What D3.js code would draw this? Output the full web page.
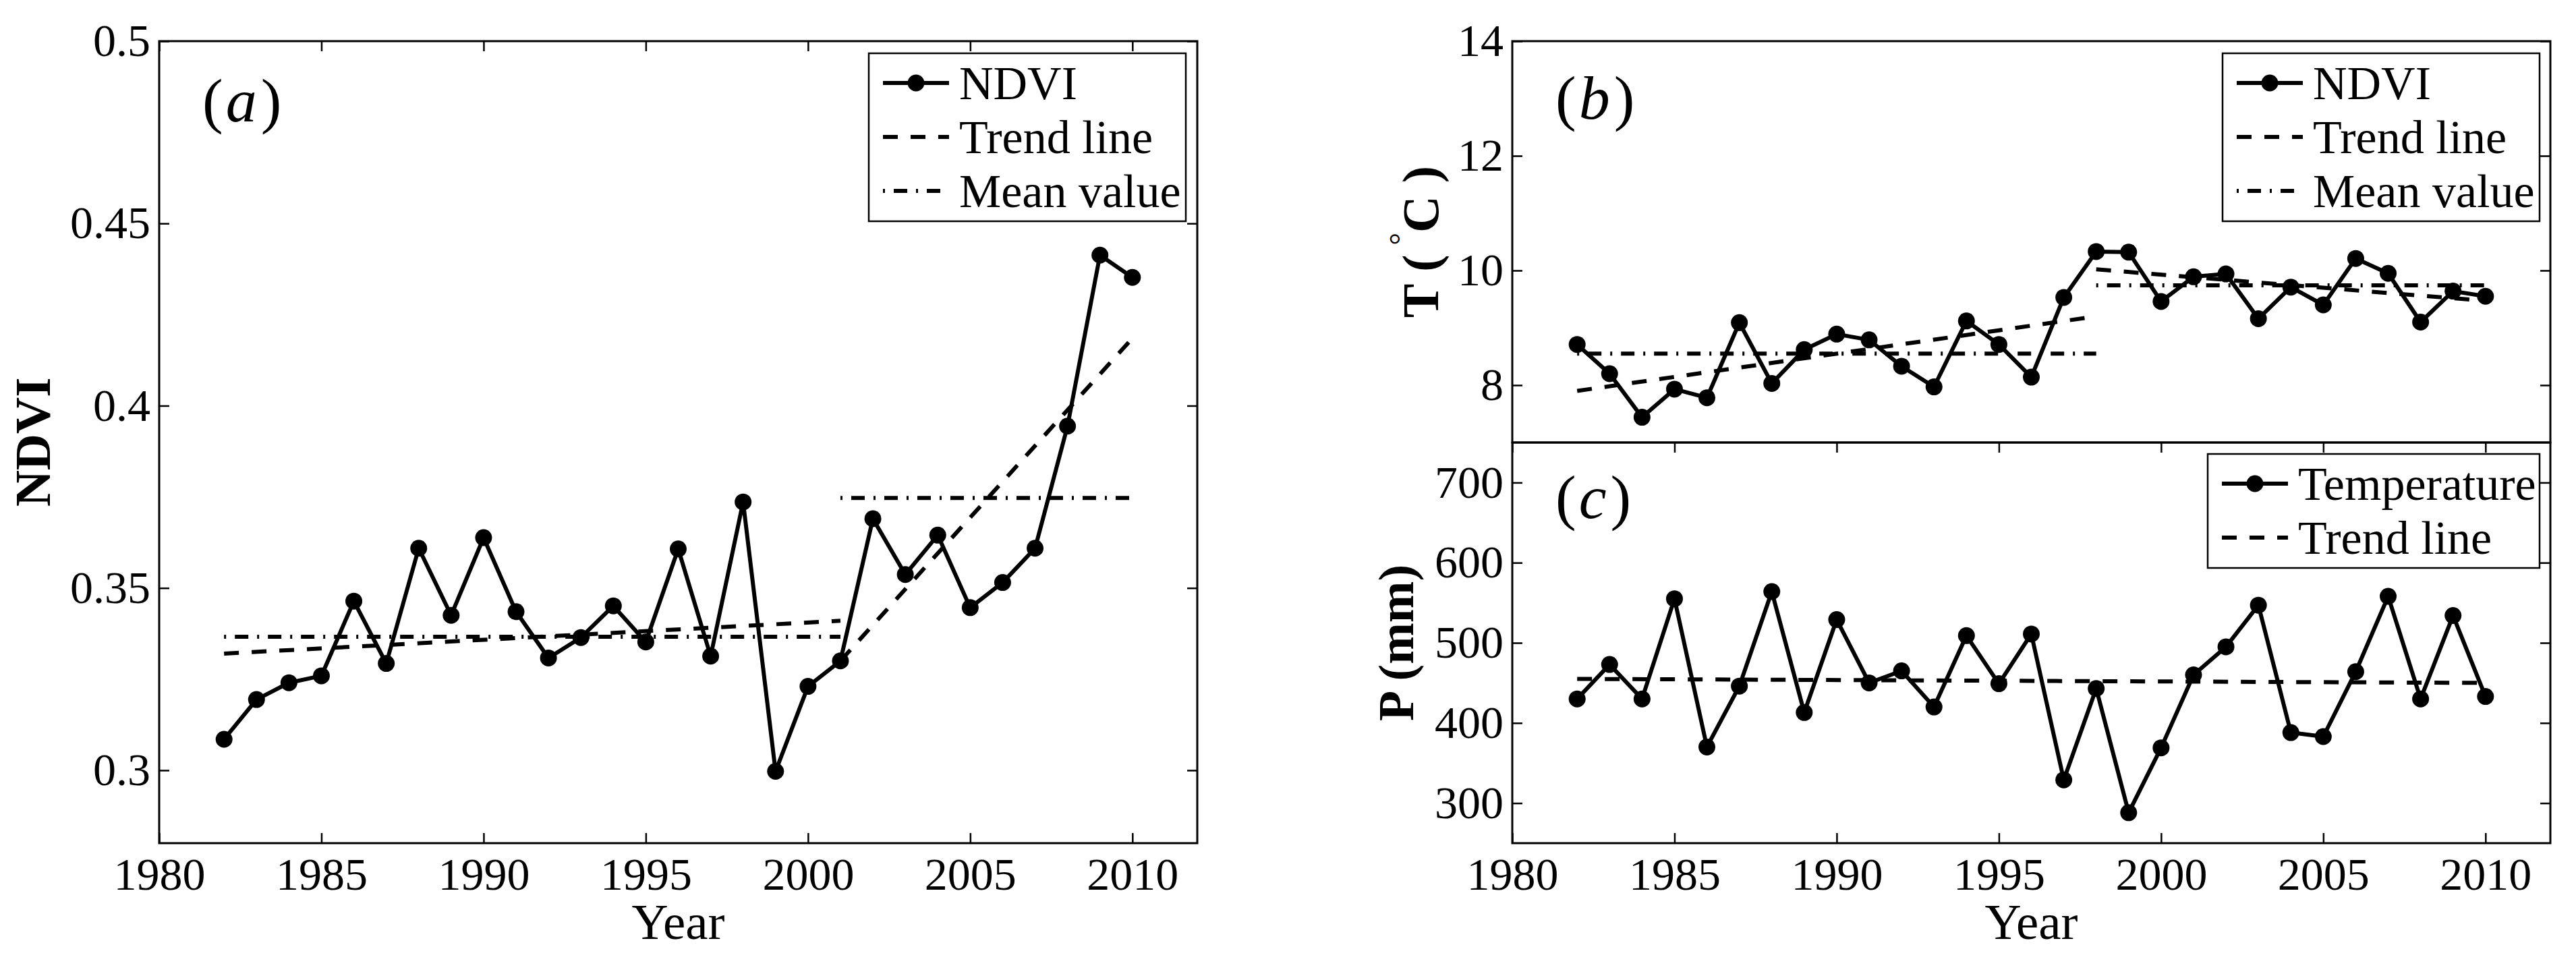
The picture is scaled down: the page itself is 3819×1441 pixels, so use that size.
<!DOCTYPE html>
<html>
<head>
<meta charset="utf-8">
<script src="https://cdn.jsdelivr.net/npm/d3@7"></script>
<style>
body { margin: 0; background: #fff; }
text { font-family: "Liberation Serif", "Times New Roman", serif; }
</style>
</head>
<body>
<script>
// values
var years = [1982,1983,1984,1985,1986,1987,1988,1989,1990,1991,1992,1993,1994,1995,
  1996,1997,1998,1999,2000,2001,2002,2003,2004,2005,2006,2007,2008,2009,2010];

var ndvi = [0.3085,0.3194,0.3240,0.3259,0.3464,0.3293,0.3609,0.3425,0.3638,0.3435,
  0.3308,0.3364,0.3451,0.3352,0.3607,0.3313,0.3736,0.2997,0.3230,0.3300,
  0.3690,0.3537,0.3645,0.3446,0.3515,0.3609,0.3944,0.4413,0.4352];

var temp = [8.71,8.20,7.44,7.93,7.78,9.09,8.03,8.62,8.89,8.79,8.33,7.97,9.12,8.71,
  8.14,9.53,10.33,10.32,9.46,9.89,9.94,9.16,9.71,9.40,10.21,9.95,9.10,9.64,9.55];

var precip = [430,473,430,555,370,446,564,413,529,450,465,420,509,449,511,329,443,
  288,369,460,495,547,388,383,464,558,430,534,433];

// trend / mean segments: [year, value] end points
var ndviTrend = [[[1982,0.332],[2001,0.341]], [[2001,0.330],[2010,0.4185]]];
var ndviMean  = [[[1982,0.3366],[2001,0.3366]], [[2001,0.3747],[2010,0.3747]]];
var tempTrend = [[[1982,7.90],[1998,9.20]], [[1998,10.02],[2010,9.47]]];
var tempMean  = [[[1982,8.55],[1998,8.55]], [[1998,9.74],[2010,9.74]]];
var precipTrend = [[[1982,455],[2010,450]]];

var xTicks = [1980,1985,1990,1995,2000,2005,2010];
var ndviTicks = [0.3,0.35,0.4,0.45,0.5];
var tempTicks = [8,10,12,14];
var precipTicks = [300,400,500,600,700];

var legendA = ["NDVI","Trend line","Mean value"];
var legendC = ["Temperature","Trend line"];

var W = 3819, H = 1441;
var FONT = 68;
var LW = 6, R = 12.5;
var TREND_DASH = "22,19", MEAN_DASH = "3,13,20,13";

var svg = d3.select("body").append("svg")
    .attr("width", W)
    .attr("height", H);

function panel(box, xDomain, yDomain, yTicks, yFmt, showX) {
  var x = d3.scaleLinear().domain(xDomain).range([box.left, box.right]);
  var y = d3.scaleLinear().domain(yDomain).range([box.bottom, box.top]);
  var g = svg.append("g");

  function style(a) {
    a.select(".domain").remove();
    a.selectAll("line").attr("stroke-width", 2.5);
    a.attr("font-size", FONT).attr("font-family", "Liberation Serif, serif");
    a.selectAll("text").attr("fill", "#000");
  }

  if (showX) {
    g.append("g")
        .attr("transform", "translate(0," + box.bottom + ")")
        .call(d3.axisBottom(x).tickValues(xTicks).tickSize(-15).tickSizeOuter(0)
          .tickPadding(21).tickFormat(d3.format("d")))
        .call(style);
    g.append("g")
        .attr("transform", "translate(0," + box.top + ")")
        .call(d3.axisTop(x).tickValues(xTicks).tickSize(-15).tickSizeOuter(0).tickFormat(""))
        .call(style);
  }
  g.append("g")
      .attr("transform", "translate(" + box.left + ",0)")
      .call(d3.axisLeft(y).tickValues(yTicks).tickSize(-15).tickSizeOuter(0)
        .tickPadding(13).tickFormat(yFmt))
      .call(style);
  g.append("g")
      .attr("transform", "translate(" + box.right + ",0)")
      .call(d3.axisRight(y).tickValues(yTicks).tickSize(-15).tickSizeOuter(0).tickFormat(""))
      .call(style);

  g.append("rect")
      .attr("x", box.left).attr("y", box.top)
      .attr("width", box.right - box.left).attr("height", box.bottom - box.top)
      .attr("fill", "none").attr("stroke", "#000").attr("stroke-width", 3);

  return {g: g, x: x, y: y};
}

function segments(p, segs, dash) {
  var line = d3.line().x(function(d) { return p.x(d[0]); }).y(function(d) { return p.y(d[1]); });
  p.g.selectAll(null).data(segs).enter().append("path")
      .attr("d", line)
      .attr("fill", "none")
      .attr("stroke", "#000")
      .attr("stroke-width", LW)
      .attr("stroke-dasharray", dash);
}

function series(p, vals) {
  var pts = years.map(function(yr, i) { return [yr, vals[i]]; });
  var line = d3.line().x(function(d) { return p.x(d[0]); }).y(function(d) { return p.y(d[1]); });
  p.g.append("path")
      .datum(pts)
      .attr("d", line)
      .attr("fill", "none")
      .attr("stroke", "#000")
      .attr("stroke-width", LW)
      .attr("stroke-linejoin", "round");
  p.g.selectAll(".dot").data(pts).enter().append("circle")
      .attr("class", "dot")
      .attr("cx", function(d) { return p.x(d[0]); })
      .attr("cy", function(d) { return p.y(d[1]); })
      .attr("r", R)
      .attr("fill", "#000");
}

function legend(x0, y0, w, labels) {
  var h = 68 + (labels.length - 1) * 80 + 21;
  var g = svg.append("g");
  g.append("rect")
      .attr("x", x0).attr("y", y0).attr("width", w).attr("height", h)
      .attr("fill", "#fff").attr("stroke", "#000").attr("stroke-width", 2.5);
  labels.forEach(function(lab, i) {
    var base = y0 + 68 + i * 80, ly = base - 24;
    var ln = g.append("line")
        .attr("x1", x0 + 21).attr("x2", x0 + 119)
        .attr("y1", ly).attr("y2", ly)
        .attr("stroke", "#000").attr("stroke-width", LW);
    if (i === 0) {
      g.append("circle").attr("cx", x0 + 70).attr("cy", ly).attr("r", R).attr("fill", "#000");
    } else if (i === 1) {
      ln.attr("stroke-dasharray", TREND_DASH);
    } else {
      ln.attr("stroke-dasharray", MEAN_DASH);
    }
    g.append("text")
        .attr("x", x0 + 134).attr("y", base)
        .attr("font-size", 70)
        .text(lab);
  });
}

function tag(x, y, letter) {
  var t = svg.append("text").attr("x", x).attr("y", y).attr("font-size", 92);
  t.append("tspan").text("(");
  t.append("tspan").attr("font-style", "italic").attr("dx", 4).text(letter);
  t.append("tspan").attr("dx", 6).text(")");
}

// ---- panel (a)
var boxA = {left: 236, right: 1775, top: 61, bottom: 1250};
var pa = panel(boxA, [1980, 2012], [0.28, 0.5], ndviTicks, function(d) { return String(d); }, true);
segments(pa, ndviMean, MEAN_DASH);
segments(pa, ndviTrend, TREND_DASH);
series(pa, ndvi);

// ---- panel (b)
var boxB = {left: 2242, right: 3781, top: 61, bottom: 656};
var pb = panel(boxB, [1980, 2012], [7, 14], tempTicks, d3.format("d"), false);
segments(pb, tempMean, MEAN_DASH);
segments(pb, tempTrend, TREND_DASH);
series(pb, temp);

// ---- panel (c)
var boxC = {left: 2242, right: 3781, top: 656, bottom: 1250};
var pc = panel(boxC, [1980, 2012], [250, 750], precipTicks, d3.format("d"), true);
segments(pc, precipTrend, TREND_DASH);
series(pc, precip);

// legends
legend(1288, 79, 470, legendA);
legend(3295, 79, 470, legendA);
legend(3273, 673, 492, legendC);

// panel tags
tag(boxA.left + 64, 180, "a");
tag(boxB.left + 64, 176, "b");
tag(boxC.left + 64, 768, "c");

// axis titles
svg.append("text")
    .attr("x", (boxA.left + boxA.right) / 2).attr("y", 1392)
    .attr("text-anchor", "middle").attr("font-size", 75)
    .text("Year");
svg.append("text")
    .attr("x", (boxC.left + boxC.right) / 2).attr("y", 1392)
    .attr("text-anchor", "middle").attr("font-size", 75)
    .text("Year");

svg.append("text")
    .attr("transform", "translate(74," + (boxA.top + boxA.bottom) / 2 + ") rotate(-90)")
    .attr("text-anchor", "middle").attr("font-size", 75).attr("font-weight", "bold")
    .text("NDVI");

var tl = svg.append("text")
    .attr("transform", "translate(2132," + (boxB.top + boxB.bottom) / 2 + ") rotate(-90)")
    .attr("text-anchor", "middle").attr("font-size", 76).attr("font-weight", "bold");
tl.append("tspan").text("T (");
tl.append("tspan").attr("font-size", 46).attr("font-weight", "normal")
    .attr("dx", 14).attr("dy", -40).text("°");
tl.append("tspan").attr("dy", 40).text("C )");

svg.append("text")
    .attr("transform", "translate(2095," + (boxC.top + boxC.bottom) / 2 + ") rotate(-90)")
    .attr("text-anchor", "middle").attr("font-size", 74).attr("font-weight", "bold")
    .text("P (mm)");
</script>
</body>
</html>
